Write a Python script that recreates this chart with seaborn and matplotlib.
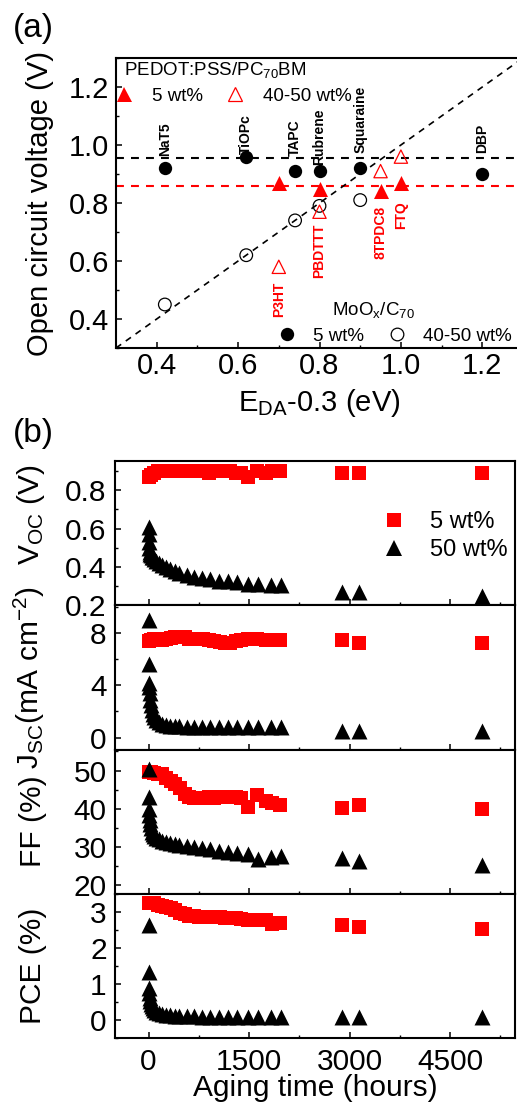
import numpy as np
import pandas as pd
import matplotlib
matplotlib.use("Agg")
import matplotlib.pyplot as plt
import seaborn as sns
from matplotlib.lines import Line2D
from matplotlib.ticker import MultipleLocator

# ---------------- (a) Voc versus E_DA - 0.3 ----------------
# MoOx/C70 cells, 5 wt% donor
mo5_names = ["NaT5", "TiOPc", "TAPC", "Rubrene", "Squaraine", "DBP"]
mo5_eda = [0.42, 0.62, 0.74, 0.80, 0.90, 1.20]
mo5_voc = [0.92, 0.96, 0.91, 0.91, 0.92, 0.90]
mo5_label_y = [0.962, 0.968, 0.962, 0.931, 0.973, 0.973]

# MoOx/C70 cells, 40-50 wt% donor
mo50_eda = [0.42, 0.62, 0.74, 0.80, 0.90]
mo50_voc = [0.45, 0.62, 0.74, 0.79, 0.81]

# PEDOT:PSS/PC70BM cells, 5 wt% donor
pe5_eda = [0.70, 0.80, 0.95, 1.00]
pe5_voc = [0.87, 0.85, 0.84, 0.87]

# PEDOT:PSS/PC70BM cells, 40-50 wt% donor
pe50_names = ["P3HT", "PBDTTT", "8TPDC8", "FTQ"]
pe50_eda = [0.70, 0.80, 0.95, 1.00]
pe50_voc = [0.58, 0.77, 0.91, 0.96]
pe50_label_y = [0.53, 0.73, 0.79, 0.807]

# average Voc of the dilute-donor devices
voc_level_mo = 0.955
voc_level_pe = 0.86

# ---------------- (b) ageing of the devices ----------------
t_5wt = [0, 30, 80, 140, 200, 260, 330, 400, 470, 540, 610, 680, 750, 820,
         900, 980, 1060, 1140, 1220, 1300, 1380, 1480, 1620, 1760, 1850,
         1970, 2883, 3146, 4971]
voc_5wt = [0.87, 0.88, 0.89, 0.90, 0.90, 0.90, 0.90, 0.90, 0.90, 0.90, 0.90,
           0.90, 0.90, 0.90, 0.89, 0.90, 0.90, 0.90, 0.90, 0.89, 0.89, 0.87,
           0.90, 0.89, 0.90, 0.90, 0.89, 0.89, 0.89]
jsc_5wt = [7.4, 7.45, 7.5, 7.5, 7.45, 7.5, 7.6, 7.7, 7.7, 7.65, 7.55, 7.55,
           7.5, 7.5, 7.45, 7.4, 7.3, 7.25, 7.25, 7.35, 7.45, 7.5, 7.5, 7.45,
           7.45, 7.45, 7.42, 7.19, 7.24]
ff_5wt = [49.5, 49.5, 49.3, 49.2, 49.0, 48.0, 47.3, 46.6, 45.5, 44.0, 43.2,
          42.8, 42.8, 42.8, 43.0, 42.8, 43.0, 43.0, 43.0, 43.0, 42.8, 40.6,
          43.6, 42.0, 41.6, 41.0, 40.3, 41.0, 40.0]
pce_5wt = [3.25, 3.25, 3.25, 3.2, 3.15, 3.12, 3.1, 3.05, 2.98, 2.95, 2.88,
           2.87, 2.86, 2.86, 2.86, 2.85, 2.85, 2.84, 2.83, 2.82, 2.8, 2.78,
           2.78, 2.76, 2.66, 2.68, 2.62, 2.57, 2.53]

t_50wt = [0, 0, 5, 10, 15, 20, 30, 45, 60, 80, 110, 150, 200, 260, 320, 390,
          454, 577, 675, 799, 922, 1045, 1193, 1316, 1489, 1637, 1834, 1982,
          2883, 3146, 4971]
voc_50wt = [0.61, 0.57, 0.53, 0.50, 0.48, 0.47, 0.46, 0.45, 0.45, 0.44, 0.43,
            0.42, 0.41, 0.40, 0.39, 0.38, 0.37, 0.358, 0.349, 0.34, 0.335,
            0.329, 0.326, 0.321, 0.312, 0.309, 0.305, 0.305, 0.27, 0.27, 0.25]
jsc_50wt = [9.0, 5.6, 4.2, 3.9, 3.4, 2.9, 2.5, 2.1, 1.8, 1.55, 1.35, 1.2,
            1.05, 0.95, 0.9, 0.88, 0.86, 0.85, 0.85, 0.84, 0.84, 0.83, 0.82,
            0.82, 0.8, 0.8, 0.78, 0.78, 0.5, 0.5, 0.5]
ff_50wt = [50.5, 43.0, 40.0, 38.5, 37.0, 36.0, 35.0, 34.0, 33.5, 33.0, 32.5,
           32.0, 31.7, 31.3, 31.0, 30.8, 30.5, 30.3, 30.0, 29.7, 29.6, 29.1,
           28.7, 28.5, 28.2, 26.9, 27.3, 27.6, 27.1, 26.4, 25.3]
pce_50wt = [2.62, 1.34, 0.9, 0.75, 0.62, 0.52, 0.45, 0.38, 0.32, 0.27, 0.23,
            0.2, 0.17, 0.15, 0.13, 0.12, 0.11, 0.1, 0.1, 0.09, 0.09, 0.09,
            0.08, 0.08, 0.08, 0.08, 0.08, 0.08, 0.08, 0.08, 0.08]

metrics = ["Voc", "Jsc", "FF", "PCE"]
metric_labels = [r"V$_{\mathregular{OC}}$ (V)",
                 r"J$_{\mathregular{SC}}$(mA cm$^{\mathregular{-2}}$)",
                 "FF (%)", "PCE (%)"]

aged_5 = pd.DataFrame({"t": t_5wt, "Voc": voc_5wt, "Jsc": jsc_5wt,
                       "FF": ff_5wt, "PCE": pce_5wt})
aged_50 = pd.DataFrame({"t": t_50wt, "Voc": voc_50wt, "Jsc": jsc_50wt,
                        "FF": ff_50wt, "PCE": pce_50wt})

# ---------------- styling ----------------
sns.set_theme(style="ticks")
plt.rcParams.update({
    "font.family": ["Liberation Sans", "DejaVu Sans"],
    "mathtext.fontset": "custom",
    "mathtext.rm": "Liberation Sans",
    "mathtext.it": "Liberation Sans:italic",
    "mathtext.bf": "Liberation Sans:bold",
    "axes.edgecolor": "black",
    "axes.linewidth": 1.5,
    "text.color": "black",
    "axes.labelcolor": "black",
    "xtick.color": "black",
    "ytick.color": "black",
    "xtick.direction": "in",
    "ytick.direction": "in",
    "xtick.major.size": 4,
    "ytick.major.size": 4,
    "xtick.minor.size": 2.5,
    "ytick.minor.size": 2.5,
    "xtick.major.width": 1.1,
    "ytick.major.width": 1.1,
    "xtick.minor.width": 1.0,
    "ytick.minor.width": 1.0,
})

W, H = 517, 1109
fig = plt.figure(figsize=(W / 100, H / 100), dpi=100)

RED = "#ff0000"
dash = (0, (3.8, 3.4))

# ---------------- panel (a) ----------------
ax_a = fig.add_axes([116 / W, 1 - 348 / H, 407 / W, 290 / H])
ax_a.set_xlim(0.3, 1.3)
ax_a.set_ylim(0.3, 1.3)

ax_a.axhline(voc_level_mo, color="black", lw=1.5, ls=dash, zorder=1)
ax_a.axhline(voc_level_pe, color=RED, lw=1.5, ls=dash, zorder=1)
ax_a.axline((0.3, 0.3), slope=1, color="black", lw=1.2, ls=dash, zorder=1)

sns.scatterplot(x=mo50_eda, y=mo50_voc, marker="o", color="black",
                facecolor="none", edgecolor="black", linewidth=0.9, s=83,
                ax=ax_a, zorder=3)
sns.scatterplot(x=pe50_eda, y=pe50_voc, marker="^", color=RED,
                facecolor="none", edgecolor=RED, linewidth=0.9, s=92,
                ax=ax_a, zorder=3)
sns.scatterplot(x=mo5_eda, y=mo5_voc, marker="o", color="black",
                linewidth=0, s=92, ax=ax_a, zorder=4)
sns.scatterplot(x=pe5_eda, y=pe5_voc, marker="^", color=RED,
                linewidth=0, s=117, ax=ax_a, zorder=4)

for name, x, y in zip(mo5_names, mo5_eda, mo5_label_y):
    ax_a.text(x, y, name, rotation=90, ha="center", va="bottom",
              fontsize=10, fontweight="bold", color="black", zorder=5)
for name, x, y in zip(pe50_names, pe50_eda, pe50_label_y):
    ax_a.text(x, y, name, rotation=90, ha="center", va="top",
              fontsize=10, fontweight="bold", color=RED, zorder=5)

# legends
ax_a.text(0.02, 0.959, r"PEDOT:PSS/PC$_{\mathregular{70}}$BM",
          transform=ax_a.transAxes, ha="left", va="center", fontsize=13.5)
pe_handles = [Line2D([], [], ls="", marker="^", ms=10.8, color=RED, mew=0),
              Line2D([], [], ls="", marker="^", ms=9.6, mfc="none",
                     mec=RED, mew=0.9)]
leg1 = ax_a.legend(pe_handles, ["5 wt%", "40-50 wt%"], ncol=2,
                   loc="center left", bbox_to_anchor=(-0.003, 0.869),
                   frameon=False, fontsize=13.5, handlelength=1.0,
                   handletextpad=1.0, columnspacing=1.2, borderpad=0,
                   borderaxespad=0)
ax_a.add_artist(leg1)

ax_a.text(0.531, 0.131, r"MoO$_{\mathregular{x}}$/C$_{\mathregular{70}}$",
          transform=ax_a.transAxes, ha="left", va="center", fontsize=13.5)
mo_handles = [Line2D([], [], ls="", marker="o", ms=9.6, color="black", mew=0),
              Line2D([], [], ls="", marker="o", ms=9.1, mfc="none",
                     mec="black", mew=0.9)]
ax_a.legend(mo_handles, ["5 wt%", "40-50 wt%"], ncol=2,
            loc="center left", bbox_to_anchor=(0.397, 0.0414),
            frameon=False, fontsize=13.5, handlelength=1.0,
            handletextpad=0.9, columnspacing=1.26, borderpad=0,
            borderaxespad=0)

ax_a.xaxis.set_major_locator(MultipleLocator(0.2))
ax_a.xaxis.set_minor_locator(MultipleLocator(0.1))
ax_a.yaxis.set_major_locator(MultipleLocator(0.2))
ax_a.yaxis.set_minor_locator(MultipleLocator(0.1))
ax_a.tick_params(axis="both", which="both", labelsize=21)
ax_a.tick_params(axis="x", which="major", pad=3)
ax_a.tick_params(axis="y", which="major", pad=5)
ax_a.set_xlabel(r"E$_{\mathregular{DA}}$-0.3 (eV)", fontsize=21)
ax_a.set_ylabel("Open circuit voltage (V)", fontsize=21)
ax_a.xaxis.set_label_coords(0.5, -0.135)
ax_a.yaxis.set_label_coords(-0.152, 0.5)
ax_a.spines["right"].set_visible(False)
for side in ["left", "bottom", "top"]:
    ax_a.spines[side].set_linewidth(1.5)

# ---------------- panel (b) ----------------
ylims = [(0.2, 0.953), (-0.9, 10.1), (17.8, 55.5), (-0.5, 3.5)]
majors = [0.2, 4, 10, 1]
minors = [0.1, 2, 5, 0.5]
label_y = [0.63, 0.5, 0.5, 0.5]
panel_h = 577 / 4
axes_b = []
for i, (m, lab, yl, mj, mn, ly) in enumerate(zip(metrics, metric_labels,
                                                 ylims, majors, minors,
                                                 label_y)):
    top_px = 461 + i * panel_h
    ax = fig.add_axes([115 / W, 1 - (top_px + panel_h) / H,
                       400 / W, panel_h / H])
    sns.scatterplot(data=aged_5, x="t", y=m, marker="s", color=RED,
                    linewidth=0, s=112, ax=ax, zorder=3)
    sns.scatterplot(data=aged_50, x="t", y=m, marker="^", color="black",
                    linewidth=0, s=132, ax=ax, zorder=4)
    ax.set_xlim(-500, 5470)
    ax.set_ylim(*yl)
    ax.xaxis.set_major_locator(MultipleLocator(1500))
    ax.xaxis.set_minor_locator(MultipleLocator(750))
    ax.yaxis.set_major_locator(MultipleLocator(mj))
    ax.yaxis.set_minor_locator(MultipleLocator(mn))
    ax.tick_params(axis="both", which="both", labelsize=21.5)
    ax.tick_params(axis="y", which="major", pad=6)
    ax.tick_params(axis="x", which="major", pad=7)
    ax.set_ylabel(lab, fontsize=21.5)
    ax.yaxis.set_label_coords(-0.17, ly)
    ax.set_xlabel("")
    for side in ax.spines:
        ax.spines[side].set_linewidth(1.5)
    if i < 3:
        ax.tick_params(axis="x", labelbottom=False)
    axes_b.append(ax)

axes_b[-1].set_xlabel("Aging time (hours)", fontsize=21.5)
axes_b[-1].xaxis.set_label_coords(0.5, -0.25)

age_handles = [Line2D([], [], ls="", marker="s", ms=10.6, color=RED, mew=0),
               Line2D([], [], ls="", marker="^", ms=11.5, color="black",
                      mew=0)]
axes_b[0].legend(age_handles, ["5 wt%", "50 wt%"], loc="center left",
                 bbox_to_anchor=(0.6675, 0.477), frameon=False, fontsize=17,
                 handlelength=1.0, handletextpad=1.05, borderpad=0,
                 borderaxespad=0, labelspacing=0.25)

fig.text(13 / W, 1 - 13 / H, "(a)", ha="left", va="top", fontsize=24)
fig.text(13 / W, 1 - 418 / H, "(b)", ha="left", va="top", fontsize=24)

fig.savefig("out.png", dpi=100)
